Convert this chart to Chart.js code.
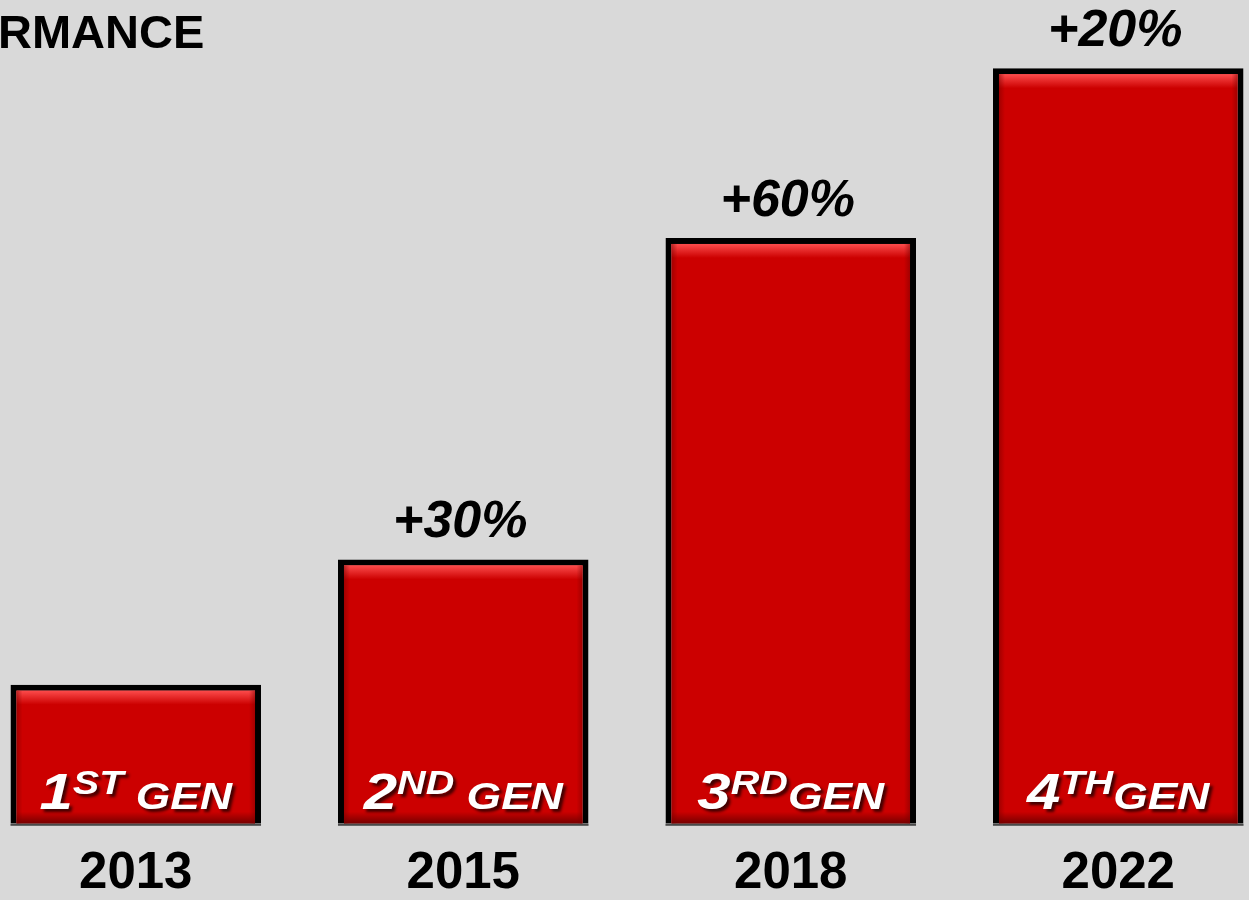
<!DOCTYPE html>
<html>
<head>
<meta charset="utf-8">
<script src="https://cdn.jsdelivr.net/npm/chart.js@4"></script>
<style>
  html, body { margin: 0; padding: 0; background: #d9d9d9; overflow: hidden; }
  #wrap { position: absolute; left: -28px; top: 0; width: 1310px; height: 925px; }
</style>
</head>
<body>
<div id="wrap"><canvas id="genChart" width="1310" height="925"></canvas></div>
<script>
// Data
var years = ['2013', '2015', '2018', '2022'];
var perfValues = [1.0, 1.9, 4.21, 5.43];
var gains = ['', '+30%', '+60%', '+20%'];
var genNums = ['1', '2', '3', '4'];
var genSuffix = ['ST', 'ND', 'RD', 'TH'];
var genWord = [' GEN', ' GEN', 'GEN', 'GEN'];
var titleText = 'RMANCE';

var FONT = '"Liberation Sans", Arial, sans-serif';

// Draws bevel, baseline, gain labels and the GEN labels on each bar
var barDecor = {
  id: 'barDecor',
  afterDatasetsDraw: function (chart) {
    var ctx = chart.ctx;
    var meta = chart.getDatasetMeta(0);
    var bw = 6;
    meta.data.forEach(function (bar, i) {
      var p = bar.getProps(['x', 'y', 'base', 'width'], true);
      var left = p.x - p.width / 2;
      var inner = p.width - 2 * bw;
      ctx.save();

      // top bevel highlight
      var g = ctx.createLinearGradient(0, p.y + bw, 0, p.y + bw + 14);
      g.addColorStop(0, 'rgba(255,80,80,0.95)');
      g.addColorStop(1, 'rgba(255,80,80,0)');
      ctx.fillStyle = g;
      ctx.fillRect(left + bw, p.y + bw, inner, 14);

      // bottom shade
      g = ctx.createLinearGradient(0, p.base - 12, 0, p.base);
      g.addColorStop(0, 'rgba(80,0,0,0)');
      g.addColorStop(1, 'rgba(80,0,0,0.7)');
      ctx.fillStyle = g;
      ctx.fillRect(left + bw, p.base - 12, inner, 12);

      // side shades
      g = ctx.createLinearGradient(left + bw, 0, left + bw + 6, 0);
      g.addColorStop(0, 'rgba(120,0,0,0.5)');
      g.addColorStop(1, 'rgba(120,0,0,0)');
      ctx.fillStyle = g;
      ctx.fillRect(left + bw, p.y + bw, 6, p.base - p.y - bw);
      g = ctx.createLinearGradient(left + p.width - bw, 0, left + p.width - bw - 6, 0);
      g.addColorStop(0, 'rgba(120,0,0,0.5)');
      g.addColorStop(1, 'rgba(120,0,0,0)');
      ctx.fillStyle = g;
      ctx.fillRect(left + p.width - bw - 6, p.y + bw, 6, p.base - p.y - bw);

      // thin line under each bar
      ctx.fillStyle = '#4a4a4a';
      ctx.fillRect(left, p.base, p.width, 2);

      // gain label above the bar
      if (gains[i]) {
        ctx.fillStyle = '#000';
        ctx.font = 'italic bold 52px ' + FONT;
        ctx.textAlign = 'center';
        ctx.textBaseline = 'alphabetic';
        ctx.fillText(gains[i], p.x - 3, p.y - 22);
      }

      // GEN label inside the bar
      var sx = 1.2;
      ctx.textAlign = 'left';
      ctx.textBaseline = 'alphabetic';
      ctx.font = 'italic bold 50px ' + FONT;
      var wNum = ctx.measureText(genNums[i]).width;
      ctx.font = 'italic bold 33px ' + FONT;
      var wSuf = ctx.measureText(genSuffix[i]).width;
      ctx.font = 'italic bold 37px ' + FONT;
      var wWord = ctx.measureText(genWord[i]).width;
      var total = (wNum + wSuf + wWord) * sx;
      var startX = p.x - total / 2;
      var baseY = p.base - 15;

      ctx.translate(startX, 0);
      ctx.scale(sx, 1);
      ctx.fillStyle = '#fff';
      ctx.shadowColor = 'rgba(40,0,0,0.85)';
      ctx.shadowOffsetX = 3;
      ctx.shadowOffsetY = 3;
      ctx.shadowBlur = 3;
      ctx.font = 'italic bold 50px ' + FONT;
      ctx.fillText(genNums[i], 0, baseY);
      ctx.font = 'italic bold 33px ' + FONT;
      ctx.fillText(genSuffix[i], wNum, baseY - 15);
      ctx.font = 'italic bold 37px ' + FONT;
      ctx.fillText(genWord[i], wNum + wSuf, baseY);
      ctx.restore();
    });

    // cropped title at top left
    ctx.save();
    ctx.fillStyle = '#000';
    ctx.font = 'bold 47px ' + FONT;
    ctx.textAlign = 'left';
    ctx.textBaseline = 'alphabetic';
    ctx.fillText(titleText, 28 - 2, 48);
    ctx.restore();
  }
};

new Chart(document.getElementById('genChart'), {
  type: 'bar',
  data: {
    labels: years,
    datasets: [{
      data: perfValues,
      backgroundColor: '#cc0000',
      borderColor: '#000000',
      borderWidth: 6,
      borderSkipped: 'bottom',
      barPercentage: 0.765,
      categoryPercentage: 1
    }]
  },
  options: {
    responsive: false,
    devicePixelRatio: 1,
    animation: false,
    layout: { padding: { top: 0, left: 0, right: 0, bottom: 0 } },
    plugins: {
      legend: { display: false },
      tooltip: { enabled: false }
    },
    scales: {
      y: { display: false, min: 0, max: 5.92 },
      x: {
        grid: { display: false, drawTicks: false },
        border: { display: false },
        ticks: {
          color: '#000',
          padding: 20,
          font: { family: FONT, size: 51, weight: 'bold' }
        }
      }
    }
  },
  plugins: [barDecor]
});
</script>
</body>
</html>
